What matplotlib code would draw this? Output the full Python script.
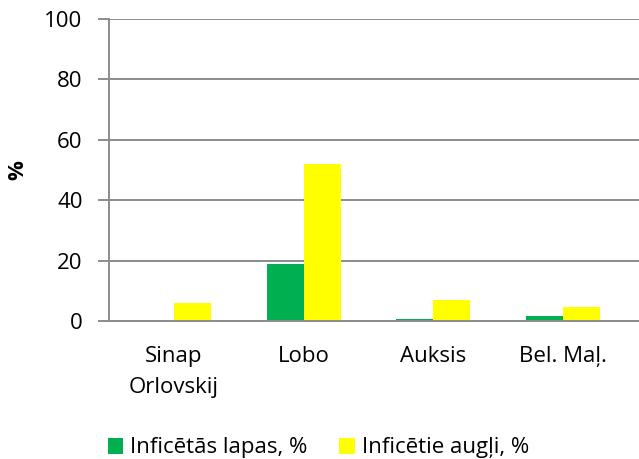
import matplotlib
matplotlib.use("Agg")
import matplotlib.pyplot as plt
from matplotlib.patches import Patch
import numpy as np

categories = ["Sinap\nOrlovskij", "Lobo", "Auksis", "Bel. Maļ."]
leaves = [0, 19, 0.7, 1.8]
fruits = [6, 52, 6.8, 4.8]
series_names = ["Inficētās lapas, %", "Inficētie augļi, %"]
yticks = [0, 20, 40, 60, 80, 100]

plt.rcParams['font.family'] = ['Open Sans', 'DejaVu Sans']
fs = 16

fig = plt.figure(figsize=(6.39, 4.59), dpi=100)
ax = fig.add_axes([109/639, 1-321/459, 1-109/639, (321-19)/459])

x = np.arange(len(categories))
w = 0.285
green = "#00B050"
yellow = "#FFFF00"
ax.bar(x - w/2, leaves, w, color=green, zorder=3)
ax.bar(x + w/2, fruits, w, color=yellow, zorder=3)

ax.set_xlim(-0.5, 3.585)
ax.set_ylim(0, 100)
ax.set_yticks(yticks)
ax.set_yticklabels([str(v) for v in yticks], fontsize=fs)
ax.set_xticks(x)
ax.set_xticklabels(categories, fontsize=fs, linespacing=1.65)
ax.tick_params(axis='x', length=0, pad=18)
ax.tick_params(axis='y', length=8, width=1.4, color="#8c8c8c", pad=11)

gc = "#8c8c8c"
ax.grid(axis='y', color=gc, linewidth=1.4, zorder=0)
for s in ["top", "right"]:
    ax.spines[s].set_visible(False)
ax.spines["left"].set_color(gc)
ax.spines["left"].set_linewidth(1.4)
ax.spines["bottom"].set_color(gc)
ax.spines["bottom"].set_linewidth(1.4)
ax.spines["bottom"].set_zorder(4)

fig.text(18/639, 1-170/459, "%", rotation=90, fontsize=fs, fontweight="bold",
         ha="center", va="center")

handles = [Patch(facecolor=green), Patch(facecolor=yellow)]
fig.legend(handles, series_names, loc="center", bbox_to_anchor=(0.498, 1-448/459),
           ncol=2, frameon=False, fontsize=fs, handlelength=0.7, handleheight=0.7,
           handletextpad=0.3, columnspacing=1.45, borderaxespad=0, borderpad=0)

fig.savefig("out.png", dpi=100)
